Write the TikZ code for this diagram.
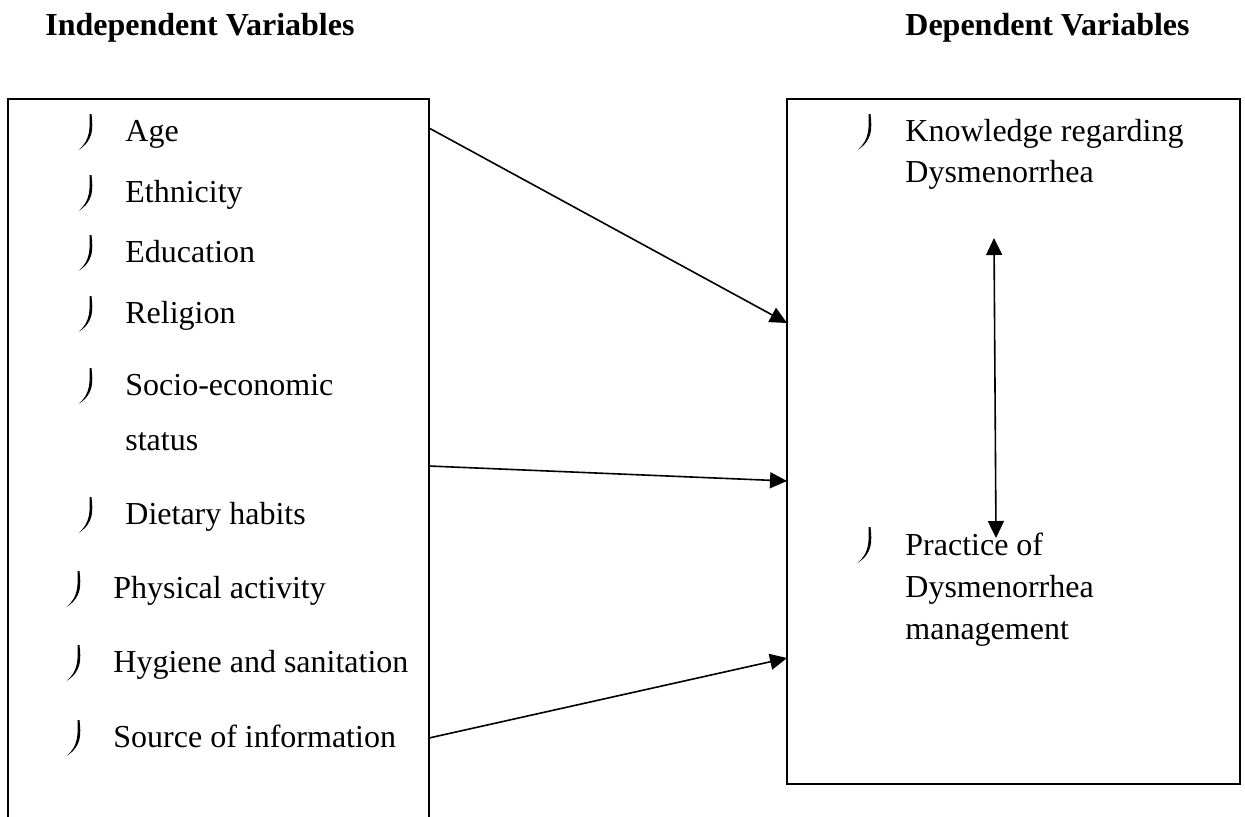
\documentclass[tikz,border=0pt]{standalone}
\usepackage{fontspec}
\setmainfont{Liberation Serif}
\usetikzlibrary{arrows.meta,fit}
\tikzset{
  txt/.style={anchor=base west, inner sep=0pt, font=\fontsize{16}{20}\selectfont},
  ttl/.style={anchor=base west, inner sep=0pt, font=\fontsize{16}{20}\selectfont\bfseries},
  box/.style={draw, line width=1pt, inner sep=0pt},
  arr/.style={line width=0.8pt, -{Triangle[length=8.5pt,width=8pt]}},
  darr/.style={line width=0.8pt, {Triangle[length=8.5pt,width=8pt]}-{Triangle[length=8.5pt,width=8pt]}},
  bul/.pic={\fill (5,-18) .. controls (6.5,-4) and (7.5,8) .. (-8,18) .. controls (4,8) and (3.5,-4) .. (3,-18) -- cycle;}
}
\begin{document}
\begin{tikzpicture}[x=0.5pt,y=-0.5pt]
\useasboundingbox (0,0) rectangle (1245,816);
\fill[white] (0,0) rectangle (1245,816);
\clip (0,0) rectangle (1245,816);

% titles
\node[ttl] (tind) at (45,35) {Independent Variables};
\node[ttl] (tdep) at (905,35) {Dependent Variables};

% boxes
\node[box, fit={(8,99) (429,860)}] (lbox) {};
\node[box, fit={(787,99) (1240,784)}] (rbox) {};

% left items
\pic at (86.5,132) {bul};
\node[txt] (age) at (125,141) {Age};
\pic at (86.5,193) {bul};
\node[txt] (eth) at (125,202) {Ethnicity};
\pic at (86.5,253) {bul};
\node[txt] (edu) at (125,262) {Education};
\pic at (86.5,314) {bul};
\node[txt] (rel) at (125,323) {Religion};
\pic at (86.5,386) {bul};
\node[txt] (soc) at (125,395) {Socio-economic};
\node[txt] (socb) at (125,450) {status};
\pic at (86.5,515) {bul};
\node[txt] (diet) at (125,524) {Dietary habits};
\pic at (74.5,589) {bul};
\node[txt] (phys) at (113,598) {Physical activity};
\pic at (74.5,663) {bul};
\node[txt] (hyg) at (113,672) {Hygiene and sanitation};
\pic at (74.5,738) {bul};
\node[txt] (src) at (113,747) {Source of information};

% right items
\pic at (865.5,132) {bul};
\node[txt] (know) at (905,141) {Knowledge regarding};
\node[txt] (knowb) at (905,182) {Dysmenorrhea};
\pic at (865.5,545) {bul};
\node[txt] (prac) at (905,555) {Practice of};
\node[txt] (pracb) at (905,597) {Dysmenorrhea};
\node[txt] (pracc) at (905,639) {management};

% connector end points on the box edges
\coordinate (s1) at (429,128);
\coordinate (e1) at (787,323);
\coordinate (s2) at (429,466);
\coordinate (e2) at (787,481);
\coordinate (s3) at (429,738);
\coordinate (e3) at (787,658);
\coordinate (kt) at (994,238);
\coordinate (pb) at (996,538);

\draw[arr] (s1) -- (e1);
\draw[arr] (s2) -- (e2);
\draw[arr] (s3) -- (e3);
\draw[darr] (kt) -- (pb);
\end{tikzpicture}
\end{document}
